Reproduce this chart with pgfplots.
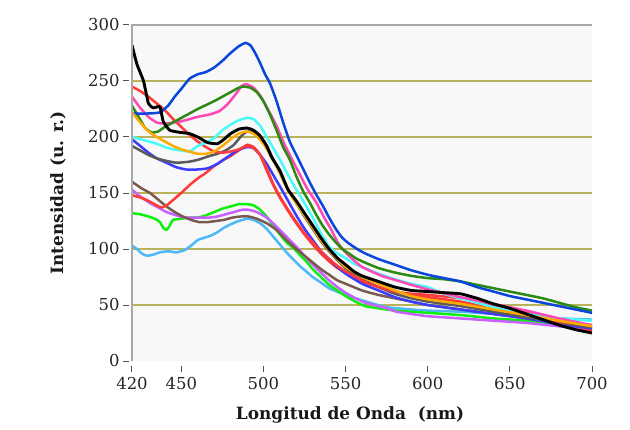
\documentclass[border=0pt]{standalone}
\usepackage{fontspec}
\setmainfont{DejaVu Serif}
\usepackage{pgfplots}
\pgfplotsset{compat=1.18}

\definecolor{plotbg}{HTML}{F8F8F8}
\definecolor{gridolive}{HTML}{B8B35A}
\definecolor{axisgray}{HTML}{A8A8A8}
\definecolor{tickgray}{HTML}{505050}
\definecolor{cBlue}{HTML}{0A46DC}
\definecolor{cGreen}{HTML}{2A8A12}
\definecolor{cPink}{HTML}{FF48B8}
\definecolor{cRed}{HTML}{FF3A3A}
\definecolor{cCyan}{HTML}{4CFAFA}
\definecolor{cOrange}{HTML}{FFAA00}
\definecolor{cGray}{HTML}{5A5A5A}
\definecolor{cBlueB}{HTML}{3C3CFF}
\definecolor{cBrown}{HTML}{7A5A50}
\definecolor{cViolet}{HTML}{C860FF}
\definecolor{cLime}{HTML}{10EE10}
\definecolor{cSky}{HTML}{4CB8F8}

\begin{document}
\begin{tikzpicture}
\useasboundingbox (-132bp,-69bp) rectangle (498bp,361bp);
\fill[white] (-132bp,-69bp) rectangle (498bp,361bp);
\begin{axis}[
  scale only axis, width=460bp, height=336bp,
  xmin=420, xmax=700, ymin=0, ymax=300,
  xtick={420,450,500,550,600,650,700},
  ytick={0,50,...,300},
  axis background/.style={fill=plotbg},
  axis line style={draw=none},
  tick align=outside,
  major tick length=6bp,
  xtick pos=bottom, ytick pos=left,
  xtick style={draw=tickgray, line width=1bp, yshift=-5bp},
  ytick style={draw=tickgray, line width=1bp, xshift=-3bp},
  /pgf/number format/assume math mode=true,
  /pgf/number format/1000 sep={},
  ticklabel style={font=\fontsize{16.5}{16.5}\selectfont, text=black!85},
  xticklabel style={yshift=-7bp},
  yticklabel style={xshift=-3bp},
  extra y ticks={50,100,150,200,250},
  extra y tick labels={},
  extra y tick style={grid=major, major grid style={draw=gridolive, line width=1.6bp}, tick style={draw=none}},
  xlabel={Longitud de Onda\ \ (nm)},
  ylabel={Intensidad (u. r.)},
  label style={font=\bfseries\fontsize{17}{17}\selectfont, text=black!90},
  xlabel style={at={(axis description cs:0.474,-0.161)}, anchor=center},
  ylabel style={at={(axis description cs:-0.161,0.5)}, anchor=center},
  every axis plot/.append style={line width=2.5bp, smooth, tension=0.3, line join=round},
  after end axis/.code={
    \draw[axisgray, line width=1.5bp] (rel axis cs:0,0) -- (rel axis cs:0,1) -- (rel axis cs:1,1);
  },
]

% lower group
\addplot[cSky] coordinates {
(420,103)(423,100)(426,96)(429,94)(433,95)(437,97)(442,98)(447,97)(452,99)(456,103)
(460,108)(464,110)(468,112)(472,115)(476,119)(480,122)(485,125)(490,127)(494,126)(498,123)
(502,118)(506,111)(510,104)(514,97)(518,91)(522,85)(526,80)(530,75)(535,70)(540,65)
(548,60)(556,56)(565,52)(575,48)(590,46)(600,45)(620,44)(640,42)(660,40)(680,38)(700,37)};
\addplot[cLime] coordinates {
(420,132)(425,131)(430,129)(434,127)(437,124)(439,119)(441,117)(443,121)(445,126)(450,127)
(455,128)(460,128)(465,130)(470,133)(475,136)(480,138)(485,140)(490,140)(494,139)(498,135)
(502,129)(506,121)(510,113)(514,106)(518,101)(522,95)(526,89)(530,82)(535,75)(540,68)
(545,63)(550,58)(556,53)(562,49)(570,47)(580,45)(590,44)(600,43)(620,41)(640,38)(660,36)(680,33)(700,31)};
\addplot[cViolet] coordinates {
(420,153)(425,147)(431,141)(436,137)(441,133)(447,130)(452,128)(457,128)(462,128)(467,128)
(472,129)(477,131)(482,133)(487,135)(491,135)(496,133)(502,128)(508,120)(514,111)(520,102)
(525,94)(530,86)(535,79)(540,72)(545,66)(550,61)(556,56)(562,52)(567,50)(575,47)(581,44)
(590,42)(600,40)(620,38)(640,36)(660,34)(680,31)(700,28)};
\addplot[cBrown] coordinates {
(420,160)(422,158)(426,154)(431,150)(436,144)(441,138)(446,133)(451,129)(456,126)(461,124)
(466,124)(471,125)(476,126)(481,128)(486,129)(491,129)(496,127)(502,123)(508,117)(514,108)
(520,100)(525,94)(530,88)(535,82)(540,77)(545,72)(550,69)(560,63)(570,59)(580,56)(590,53)
(600,50)(620,46)(640,42)(660,38)(680,34)(700,30)};

% upper group
\addplot[cRed] coordinates {
(420,148)(425,146)(430,143)(435,139)(438,137)(442,140)(446,145)(450,150)(455,157)(460,163)
(465,168)(470,174)(475,179)(480,183)(485,188)(490,193)(494,191)(498,184)(502,170)(506,157)
(510,146)(515,134)(520,123)(525,113)(530,104)(535,96)(540,89)(545,83)(550,79)(560,71)
(570,66)(580,62)(590,60)(600,59)(620,56)(640,50)(660,43)(680,35)(700,27)};
\addplot[cBlueB] coordinates {
(420,198)(425,192)(430,186)(435,181)(441,177)(447,173)(453,171)(460,171)(466,172)(472,176)
(478,182)(484,188)(490,191)(494,190)(498,184)(502,176)(506,166)(510,156)(515,143)(520,130)
(525,118)(530,108)(535,98)(540,91)(545,84)(550,78)(560,69)(570,63)(580,57)(590,53)
(600,50)(620,46)(640,42)(660,38)(680,33)(700,29)};
\addplot[cGray] coordinates {
(420,192)(425,188)(430,184)(435,181)(440,179)(447,177)(455,178)(461,180)(467,183)(472,185)
(477,188)(482,193)(486,200)(490,205)(494,204)(498,200)(502,192)(506,180)(510,168)(515,153)
(520,141)(525,129)(530,118)(535,107)(540,98)(545,90)(550,83)(560,73)(570,66)(580,60)
(590,56)(600,53)(620,49)(640,44)(660,39)(680,34)(700,30)};
\addplot[cRed] coordinates {
(420,245)(425,241)(430,236)(435,230)(440,224)(445,216)(450,209)(455,202)(460,196)(465,191)
(470,187)(475,186)(480,187)(485,189)(490,192)(494,190)(498,184)(502,172)(506,158)(510,147)
(515,135)(520,124)(525,114)(530,106)(535,98)(540,91)(545,85)(550,80)(560,72)(570,66)
(580,62)(590,59)(600,57)(620,53)(640,47)(660,41)(680,35)(700,32)};
\addplot[cCyan] coordinates {
(420,200)(425,198)(430,196)(435,194)(440,191)(445,189)(450,188)(455,187)(460,192)(465,195)
(470,199)(475,206)(480,211)(485,215)(490,217)(494,216)(498,210)(502,200)(506,190)(510,180)
(515,166)(520,153)(525,141)(530,128)(535,114)(540,102)(545,96)(550,92)(555,87)(560,84)
(570,78)(580,73)(590,69)(600,66)(610,60)(620,56)(630,52)(640,48)(650,45)(660,42)
(670,40)(680,38)(690,37)(700,36)};
\addplot[cPink] coordinates {
(420,236)(425,226)(430,218)(435,213)(440,212)(450,214)(460,218)(467,220)(473,223)(478,229)
(483,238)(487,246)(490,247)(494,244)(498,237)(503,224)(508,210)(512,196)(516,184)(522,167)
(527,153)(532,142)(537,128)(541,118)(546,104)(552,94)(560,84)(572,76)(581,72)(590,68)
(600,64)(620,57)(640,51)(660,45)(680,38)(700,32)};
\addplot[cGreen] coordinates {
(420,228)(424,218)(428,208)(432,204)(436,205)(440,209)(450,217)(460,225)(470,232)(480,240)
(485,244)(488,245)(492,244)(496,240)(500,232)(504,220)(508,206)(512,191)(516,180)(520,165)
(524,152)(528,142)(532,131)(536,121)(540,113)(544,106)(548,100)(552,96)(556,92)(560,89)
(570,83)(580,79)(590,76)(600,74)(610,73)(620,71)(630,68)(640,65)(650,62)(660,59)
(670,56)(680,52)(690,48)(700,45)};
\addplot[cBlue] coordinates {
(420,221)(430,221)(437,222)(442,228)(446,236)(450,243)(455,252)(460,256)(465,258)(470,262)
(475,268)(480,275)(485,281)(489,284)(492,282)(495,275)(498,266)(501,256)(504,248)(508,232)
(512,213)(516,196)(520,184)(524,172)(528,160)(532,149)(536,139)(540,128)(544,118)(548,110)
(552,105)(557,100)(562,96)(570,91)(580,86)(590,81)(600,77)(610,74)(620,71)(630,66)
(640,62)(650,58)(660,55)(670,52)(680,49)(690,46)(700,43)};
\addplot[cOrange] coordinates {
(420,222)(425,213)(430,205)(435,200)(440,196)(445,192)(450,189)(455,187)(460,185)(465,185)
(470,187)(475,192)(480,198)(485,203)(490,205)(495,202)(500,194)(505,182)(510,168)(515,152)
(520,141)(525,130)(530,119)(535,108)(540,99)(545,91)(550,84)(560,75)(570,69)(580,63)
(590,58)(600,55)(620,51)(640,46)(660,41)(680,36)(700,31)};
\addplot[black, line width=2.9bp] coordinates {
(420,282)(423,265)(427,250)(430,230)(433,226)(437,227)(439,214)(443,206)(450,204)(455,203)
(460,200)(466,195)(472,194)(476,198)(480,203)(485,207)(490,208)(494,206)(498,201)(502,192)
(505,182)(510,170)(515,153)(520,143)(525,132)(530,121)(535,110)(540,100)(545,92)(550,86)
(555,80)(560,76)(570,71)(580,66)(590,63)(600,62)(610,61)(620,60)(630,56)(640,51)
(650,47)(660,42)(670,37)(680,32)(690,28)(700,25)};
\end{axis}
\end{tikzpicture}
\end{document}
